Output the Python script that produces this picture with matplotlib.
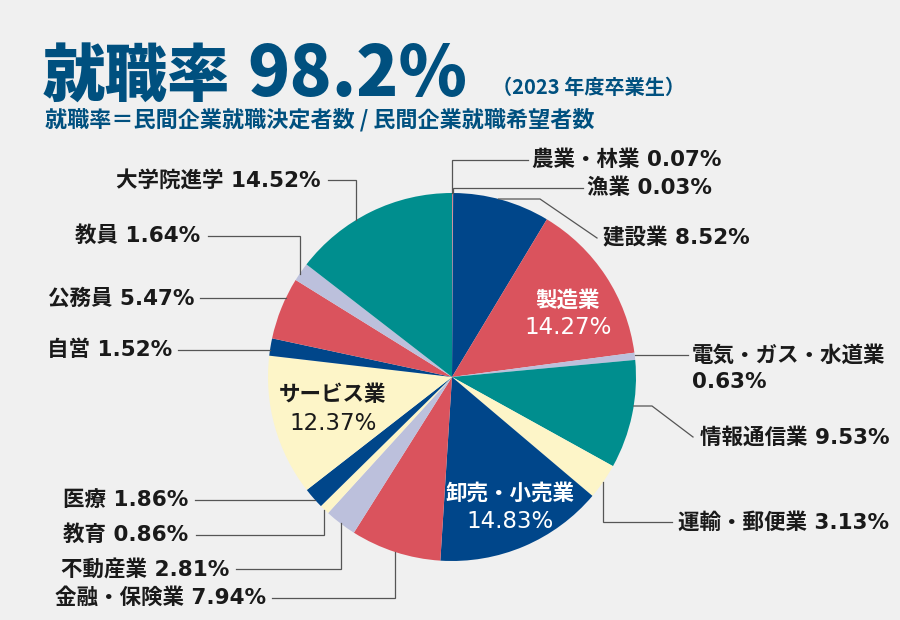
import matplotlib
matplotlib.use('Agg')
import matplotlib.pyplot as plt
import numpy as np

# ---------------- data ----------------
categories = ['農業・林業', '漁業', '建設業', '製造業', '電気・ガス・水道業', '情報通信業',
              '運輸・郵便業', '卸売・小売業', '金融・保険業', '不動産業', '教育', '医療',
              'サービス業', '自営', '公務員', '教員', '大学院進学']
values = [0.07, 0.03, 8.52, 14.27, 0.63, 9.53, 3.13, 14.83, 7.94, 2.81, 0.86, 1.86,
          12.37, 1.52, 5.47, 1.64, 14.52]
title_main = '就職率'
title_rate = '98.2%'
title_year = '（2023 年度卒業生）'
subtitle = '就職率＝民間企業就職決定者数 / 民間企業就職希望者数'

# ---------------- styles ----------------
BLUE, RED, LAV, TEAL, CREAM = '#00468a', '#da535d', '#bcc0dc', '#008e8e', '#fdf5c8'
slice_colors = [RED, LAV, BLUE, RED, LAV, TEAL, CREAM, BLUE, RED, LAV, CREAM, BLUE,
                CREAM, BLUE, RED, LAV, TEAL]
BG = '#f0f0f0'
TITLE_C = '#00507f'
TEXT_C = '#1a1a1a'
LINE_C = '#555555'
CJK = 'Noto Sans CJK JP'
LABEL_FAM = ['DejaVu Sans', CJK]

W, H = 900, 620
fig = plt.figure(figsize=(9, 6.2), dpi=100, facecolor=BG)
ax = fig.add_axes([0, 0, 1, 1])
ax.set_facecolor(BG)


def P(y):  # pixel y (top-down) -> axes y
    return H - y


CX, CY, R = 452, 377, 184
wedges, _ = ax.pie(values, colors=slice_colors, startangle=90, counterclock=False,
                   center=(CX, P(CY)), radius=R, frame=True,
                   wedgeprops=dict(linewidth=0))
ax.set_xlim(0, W)
ax.set_ylim(0, H)
ax.set_aspect('equal')
ax.axis('off')


def mid_anchor(i, frac=0.5):
    w = wedges[i]
    th = np.deg2rad(w.theta1 + (w.theta2 - w.theta1) * frac)
    return CX + R * np.cos(th), CY - R * np.sin(th)


def circle_x(y, side):
    return CX + side * np.sqrt(max(R ** 2 - (y - CY) ** 2, 0))


def line(pts):
    xs = [p[0] for p in pts]
    ys = [P(p[1]) for p in pts]
    ax.plot(xs, ys, color=LINE_C, lw=0.9, solid_joinstyle='miter', zorder=3)


def label(x, y, s, ha, color=TEXT_C, size=15.5, weight='bold', family=LABEL_FAM):
    ax.text(x, P(y), s, ha=ha, va='center', color=color, fontsize=size,
            fontweight=weight, family=family, zorder=4)


def pct(i):
    return f'{values[i]:.2f}%'


# outer labels: (index, kind, text x, text y, line end x, ha / diag option, side / frac)
outer = [
    (0, 'elbow', 532, 160, 528, 'left', 0.5),
    (1, 'elbow', 587, 188, 583, 'left', 0.5),
    (2, 'diag', 603, 238, 597, (199, 540), None),
    (5, 'diag', 700, 437, 693, (406, 652), None),
    (6, 'elbow', 678, 522, 672, 'left', 0.5),
    (8, 'elbow', 266, 598, 272, 'right', 0.5),
    (9, 'elbow', 229, 569, 236, 'right', 0.5),
    (10, 'elbow', 188, 535, 196, 'right', 0.5),
    (11, 'horiz', 188, 500, 195, 'right', -1),
    (13, 'horiz', 172, 350, 178, 'right', -1),
    (14, 'horiz', 194, 298, 200, 'right', -1),
    (15, 'elbow', 200, 236, 208, 'right', 0.6),
    (16, 'elbow', 321, 180, 328, 'right', 0.6),
]

for i, kind, tx, ty, ex, opt, extra in outer:
    if kind == 'elbow':
        axp, ayp = mid_anchor(i, extra)
        line([(axp, ayp), (axp, ty), (ex, ty)])
        label(tx, ty, f'{categories[i]} {pct(i)}', opt)
    elif kind == 'horiz':
        line([(circle_x(ty, extra), ty), (ex, ty)])
        label(tx, ty, f'{categories[i]} {pct(i)}', 'right')
    elif kind == 'diag':
        y0, x1 = opt
        line([(circle_x(y0, 1), y0), (x1, y0), (ex, ty)])
        label(tx, ty, f'{categories[i]} {pct(i)}', 'left')

# 電気・ガス・水道業 (two lines)
line([(circle_x(355, 1), 355), (688, 355)])
label(692, 355, categories[4], 'left')
label(692, 382, pct(4), 'left')

# inside labels
inside = [(3, 568, 300, 'white'), (7, 510, 493, 'white'), (12, 333, 395, TEXT_C)]
for i, x, y, c in inside:
    label(x, y, categories[i], 'center', color=c)
    label(x, y + 28, pct(i), 'center', color=c, size=16.5, weight='normal')

# titles
ax.text(43, P(97), title_main, ha='left', va='baseline', color=TITLE_C,
        fontsize=45, fontweight='heavy', family=CJK)
ax.text(247, P(96), title_rate, ha='left', va='baseline', color=TITLE_C,
        fontsize=50, fontweight='heavy', family=CJK)
ax.text(492, P(87), title_year, ha='left', va='center', color=TITLE_C,
        fontsize=14.5, fontweight='bold', family=CJK)
ax.text(45, P(120), subtitle, ha='left', va='center', color=TITLE_C,
        fontsize=15.9, fontweight='bold', family=CJK)

fig.savefig('out.png', dpi=100, facecolor=BG)
